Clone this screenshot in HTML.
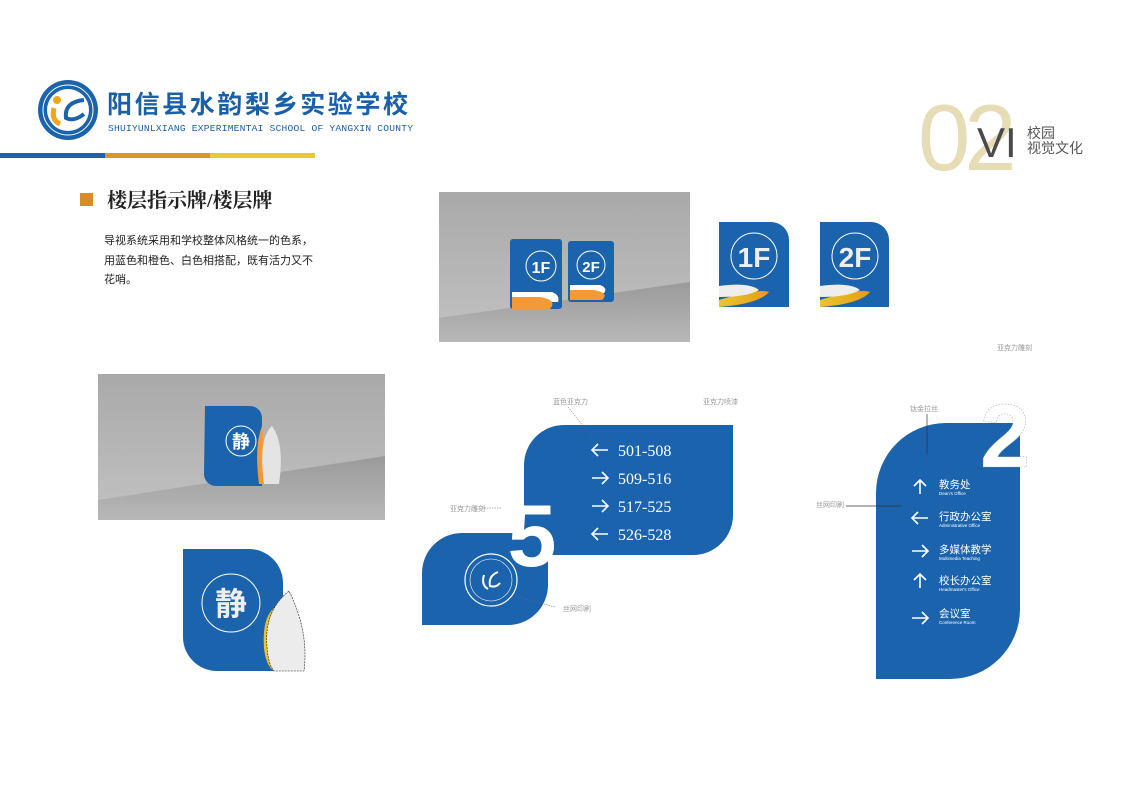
<!DOCTYPE html>
<html><head><meta charset="utf-8"><style>
html,body{margin:0;padding:0;background:#fff}
body{width:1123px;height:794px;overflow:hidden;position:relative;font-family:"Liberation Sans","Noto Sans CJK SC",sans-serif}
svg{position:absolute;left:0;top:0}
</style></head><body>
<svg width="1123" height="794" viewBox="0 0 1123 794" xmlns="http://www.w3.org/2000/svg" font-family="Liberation Sans, Noto Sans CJK SC, sans-serif">
<defs>
<linearGradient id="wall" x1="0" y1="0" x2="0" y2="1"><stop offset="0" stop-color="#a9a9a9"/><stop offset="1" stop-color="#c2c2c2"/></linearGradient>
<linearGradient id="floor" x1="0" y1="0" x2="0" y2="1"><stop offset="0" stop-color="#9a9a9a"/><stop offset="1" stop-color="#b8b8b8"/></linearGradient>
<linearGradient id="yel" x1="0" y1="0" x2="1" y2="0"><stop offset="0" stop-color="#e8c72a"/><stop offset="1" stop-color="#e89a1e"/></linearGradient>
</defs>
<!-- logo -->
<circle cx="68" cy="110" r="30" fill="#1a63ad"/>
<circle cx="68" cy="110" r="25" fill="none" stroke="#fff" stroke-width="1"/>
<circle cx="68" cy="110" r="21" fill="#fff"/>
<circle cx="57" cy="100" r="4" fill="#f0a51f"/>
<path d="M54 108 q-3 12 6 16" stroke="#f0a51f" stroke-width="5" fill="none"/>
<path d="M84 100 q-20 2 -18 18 q8 4 18 -4" stroke="#1a63ad" stroke-width="4" fill="none"/>
<text x="107" y="113" font-size="25" font-weight="bold" fill="#1a60a8" letter-spacing="2.6">阳信县水韵梨乡实验学校</text>
<text x="108" y="131" font-size="9.6" fill="#1a60a8" font-family="Liberation Mono, monospace" textLength="305">SHUIYUNLXIANG EXPERIMENTAI SCHOOL OF YANGXIN COUNTY</text>
<rect x="0" y="153" width="105" height="5" fill="#1a63ad"/>
<rect x="105" y="153" width="105" height="5" fill="#e09428"/>
<rect x="210" y="153" width="105" height="5" fill="#e6c83a"/>
<!-- 02 VI -->
<text x="918" y="170" font-size="94" fill="#e6dcb6" font-weight="300" letter-spacing="-6">02</text>
<text x="977" y="157" font-size="42" fill="#4a4a4a">VI</text>
<text x="1027" y="138" font-size="14" fill="#555">校园</text>
<text x="1027" y="153" font-size="14" fill="#555">视觉文化</text>
<!-- section -->
<rect x="80" y="193" width="13" height="13" fill="#d98a2b"/>
<text x="107" y="207" font-size="20" font-weight="bold" fill="#222" font-family="Liberation Serif, Noto Serif CJK SC, serif">楼层指示牌/楼层牌</text>
<text x="104" y="244" font-size="11" fill="#222">导视系统采用和学校整体风格统一的色系，</text>
<text x="104" y="264" font-size="11" fill="#222">用蓝色和橙色、白色相搭配，既有活力又不</text>
<text x="104" y="283" font-size="11" fill="#222">花哨。</text>
<!-- photo 1 -->
<rect x="439" y="192" width="251" height="150" fill="url(#wall)"/>
<polygon points="439,318 690,282 690,342 439,342" fill="url(#floor)"/>
<rect x="510" y="239" width="52" height="70" fill="#1b64ad" rx="3"/>
<circle cx="541" cy="266" r="15" fill="none" stroke="#fff"/>
<text x="541" y="273" font-size="16" font-weight="bold" fill="#fff" text-anchor="middle">1F</text>
<path d="M512 292 h40 q8 3 6 10 h-46z" fill="#fff"/>
<path d="M512 297 h28 q18 3 10 12 h-38z" fill="#f29a38"/>
<rect x="568" y="241" width="46" height="61" fill="#1b64ad" rx="3"/>
<circle cx="591" cy="265" r="14" fill="none" stroke="#fff"/>
<text x="591" y="272" font-size="15" font-weight="bold" fill="#fff" text-anchor="middle">2F</text>
<path d="M570 285 h30 q8 3 4 8 h-34z" fill="#fff"/>
<path d="M570 290 h24 q16 3 8 10 h-32z" fill="#f29a38"/>
<!-- flat 1F 2F -->
<path d="M719 222 h52 a18 18 0 0 1 18 18 v67 h-70z" fill="#1b64ad"/>
<circle cx="754" cy="256" r="23" fill="none" stroke="#fff"/>
<text x="754" y="267" font-size="28" font-weight="bold" fill="#eee" text-anchor="middle">1F</text>
<path d="M719 300 q20 -6 30 -8 q15 -2 20 0 q-10 12 -50 15z" fill="url(#yel)"/>
<path d="M719 286 q30 -4 40 4 q-12 7 -40 7z" fill="#eee"/>
<path d="M820 222 h51 a18 18 0 0 1 18 18 v67 h-69z" fill="#1b64ad"/>
<circle cx="855" cy="256" r="23" fill="none" stroke="#fff"/>
<text x="855" y="267" font-size="28" font-weight="bold" fill="#eee" text-anchor="middle">2F</text>
<path d="M820 300 q20 -6 30 -8 q15 -2 20 0 q-10 12 -50 15z" fill="url(#yel)"/>
<path d="M820 286 q30 -4 40 4 q-12 7 -40 7z" fill="#eee"/>
<!-- photo 2 -->
<rect x="98" y="374" width="287" height="146" fill="url(#wall)"/>
<polygon points="98,500 385,456 385,520 98,520" fill="url(#floor)"/>
<path d="M205 406 h45 a12 12 0 0 1 12 12 v68 h-46 a12 12 0 0 1 -12 -12z" fill="#1b64ad"/>
<circle cx="241" cy="441" r="15" fill="none" stroke="#fff"/>
<text x="241" y="448" font-size="18" font-weight="bold" fill="#fff" text-anchor="middle">静</text>
<path d="M262 426 q-8 20 -3 58 h8z" fill="#f29a38"/>
<path d="M272 426 q-14 12 -8 58 h15 q6 -40 -7 -58z" fill="#e4e4e4"/>
<!-- flat 静 -->
<path d="M183 549 h66 a34 34 0 0 1 34 34 v88 h-66 a34 34 0 0 1 -34 -34z" fill="#1b64ad"/>
<circle cx="231" cy="603" r="29" fill="none" stroke="#fff"/>
<text x="231" y="615" font-size="32" font-weight="bold" fill="#eee" text-anchor="middle">静</text>
<path d="M274 608 q-12 10 -10 40 q2 18 10 23 h10 v-63z" fill="url(#yel)"/>
<path d="M289 591 q-25 20 -22 55 q1 18 7 25 h30 q5 -40 -15 -80z" fill="#ececec" stroke="#222" stroke-width="0.6" stroke-dasharray="2 1"/>
<!-- room sign 5 -->
<path d="M564 425 h169 v90 a40 40 0 0 1 -40 40 h-169 v-90 a40 40 0 0 1 40 -40z" fill="#1b64ad"/>
<path d="M462 533 h86 v52 a40 40 0 0 1 -40 40 h-86 v-52 a40 40 0 0 1 40 -40z" fill="#1b64ad"/>
<text x="532" y="566" font-size="88" font-weight="bold" fill="#fff" text-anchor="middle">5</text>
<circle cx="491" cy="580" r="26" fill="none" stroke="#fff" stroke-width="1.2"/>
<circle cx="491" cy="580" r="21" fill="none" stroke="#fff" stroke-width="0.6"/>
<path d="M484 575 q-3 10 4 14 M498 572 q-10 4 -8 14 q6 2 10 -3" stroke="#fff" stroke-width="2" fill="none"/>
<g font-family="Liberation Serif, serif" font-size="16" fill="#fff">
<text x="618" y="456">501-508</text><text x="618" y="484">509-516</text><text x="618" y="512">517-525</text><text x="618" y="540">526-528</text>
</g>
<g stroke="#fff" stroke-width="1.6" fill="none">
<path d="M608 450 h-16 m6 -6 l-6 6 l6 6"/>
<path d="M592 478 h16 m-6 -6 l6 6 l-6 6"/>
<path d="M592 506 h16 m-6 -6 l6 6 l-6 6"/>
<path d="M608 534 h-16 m6 -6 l-6 6 l6 6"/>
</g>
<g font-size="7" fill="#999"><text x="553" y="404">蓝色亚克力</text><text x="703" y="404">亚克力喷漆</text><text x="450" y="511">亚克力雕刻</text><text x="563" y="611">丝网印刷</text></g>
<g stroke="#666" stroke-width="0.5" stroke-dasharray="1.5 1" fill="none"><path d="M568 407 l24 30"/><path d="M482 508 h20"/><path d="M510 595 l45 12"/></g>
<!-- tall sign -->
<path d="M946 423 h74 v186 a70 70 0 0 1 -70 70 h-74 v-186 a70 70 0 0 1 70 -70z" fill="#1b64ad"/>
<text x="1005" y="467" font-size="90" font-weight="bold" fill="#fff" stroke="#aaa" stroke-width="0.6" stroke-dasharray="1.5 1.5" text-anchor="middle">2</text>
<g stroke="#fff" stroke-width="1.6" fill="none">
<path d="M920 494 v-14 m-6 6 l6 -6 l6 6"/>
<path d="M928 518 h-16 m6 -6 l-6 6 l6 6"/>
<path d="M912 551 h16 m-6 -6 l6 6 l-6 6"/>
<path d="M920 588 v-14 m-6 6 l6 -6 l6 6"/>
<path d="M912 618 h16 m-6 -6 l6 6 l-6 6"/>
</g>
<g fill="#fff"><g font-size="10.5"><text x="939" y="488">教务处</text><text x="939" y="520">行政办公室</text><text x="939" y="553">多媒体教学</text><text x="939" y="584">校长办公室</text><text x="939" y="617">会议室</text></g>
<g font-size="4.5"><text x="939" y="495">Dean's Office</text><text x="939" y="527">Administrative Office</text><text x="939" y="560">Multimedia Teaching</text><text x="939" y="591">Headmaster's Office</text><text x="939" y="624">Conference Room</text></g></g>
<g font-size="7" fill="#999"><text x="997" y="350">亚克力雕刻</text><text x="910" y="411">钛金拉丝</text><text x="816" y="507">丝网印刷</text></g>
<g stroke="#333" stroke-width="0.7"><path d="M927 414 v40"/><path d="M846 506 h55"/></g>
</svg>
</body></html>
